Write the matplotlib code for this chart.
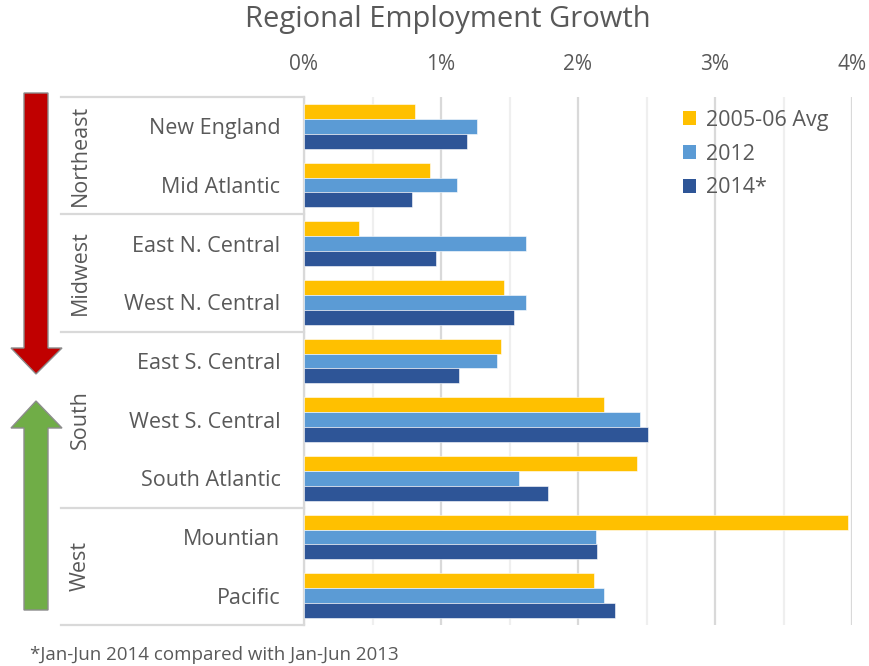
import numpy as np
import matplotlib
matplotlib.use("Agg")
import matplotlib.pyplot as plt
from matplotlib.transforms import blended_transform_factory
from matplotlib.patches import Polygon, Patch

plt.rcParams['font.family'] = ['Open Sans', 'DejaVu Sans']

# data
regions = ["New England", "Mid Atlantic", "East N. Central", "West N. Central",
           "East S. Central", "West S. Central", "South Atlantic", "Mountian", "Pacific"]
groups = ["Northeast", "Midwest", "South", "West"]
group_sizes = [2, 2, 3, 2]
avg0506 = [0.81, 0.92, 0.40, 1.46, 1.44, 2.19, 2.43, 3.97, 2.12]
y2012 = [1.26, 1.12, 1.62, 1.62, 1.41, 2.45, 1.57, 2.13, 2.19]
y2014 = [1.19, 0.79, 0.96, 1.53, 1.13, 2.51, 1.78, 2.14, 2.27]
series_names = ["2005-06 Avg", "2012", "2014*"]
colors = ["#FFC000", "#5B9BD5", "#2E5597"]
xticks = [0, 1, 2, 3, 4]
xticklabels = ["0%", "1%", "2%", "3%", "4%"]

W, H = 869, 666
fig = plt.figure(figsize=(W / 100, H / 100), dpi=100)
ax = fig.add_axes([304 / W, 1 - 625 / H, (852 - 304) / W, (625 - 97) / H])

txt = "#595959"
pos = np.arange(len(regions))
h = 0.255
for i, (vals, c) in enumerate(zip([avg0506, y2012, y2014], colors)):
    ax.barh(pos + (i - 1) * h, vals, height=h, color=c, edgecolor="white",
            linewidth=0.4, zorder=3, label=series_names[i])

ax.set_ylim(len(regions) - 0.5, -0.5)
ax.set_xlim(0, 4)
ax.xaxis.tick_top()
ax.set_xticks(xticks)
ax.set_xticklabels(xticklabels)
ax.set_xticks(np.arange(0.5, 4, 1), minor=True)
ax.grid(axis="x", which="major", color="#d9d9d9", lw=1.6, zorder=0)
ax.grid(axis="x", which="minor", color="#efefef", lw=1.6, zorder=0)
ax.tick_params(axis="x", which="both", length=0, pad=16, labelsize=15, labelcolor=txt)
ax.set_yticks(pos)
ax.set_yticklabels(regions)
ax.tick_params(axis="y", length=0, pad=17, labelsize=15.5, labelcolor=txt)
for s in ["top", "right", "bottom"]:
    ax.spines[s].set_visible(False)
ax.spines["left"].set_color("#d9d9d9")
ax.spines["left"].set_linewidth(1.6)

# category table lines and group labels
tr = blended_transform_factory(fig.transFigure, ax.transData)
bounds = np.concatenate([[0], np.cumsum(group_sizes)]) - 0.5
for b in bounds:
    ax.plot([61 / W, 304 / W], [b, b], transform=tr, color="#d9d9d9", lw=1.6,
            clip_on=False, zorder=1)
for g, lo, hi in zip(groups, bounds[:-1], bounds[1:]):
    ax.text(80 / W, (lo + hi) / 2, g, transform=tr, rotation=90, ha="center",
            va="center", fontsize=15.5, color=txt)

# arrows
ov = fig.add_axes([0, 0, 1, 1], zorder=-1)
ov.set_xlim(0, W)
ov.set_ylim(H, 0)
ov.axis("off")
red = [(24, 93), (48, 93), (48, 348), (62, 348), (36, 374), (11, 348), (24, 348)]
green = [(24, 610), (48, 610), (48, 428), (62, 428), (36, 401), (11, 428), (24, 428)]
ov.add_patch(Polygon(red, closed=True, facecolor="#C00000", edgecolor="#8c8c8c", lw=1))
ov.add_patch(Polygon(green, closed=True, facecolor="#70AD47", edgecolor="#8c8c8c", lw=1))

fig.text(448 / W, 1 - 20 / H, "Regional Employment Growth", ha="center", va="center",
         fontsize=21, color=txt)
fig.text(30 / W, 1 - 655 / H, "*Jan-Jun 2014 compared with Jan-Jun 2013", ha="left",
         va="center", fontsize=13.5, color=txt)

handles = [Patch(facecolor=c) for c in colors]
ax.legend(handles, series_names, loc="upper left", bbox_to_anchor=(674 / W, 1 - 101 / H),
          bbox_transform=fig.transFigure, frameon=False, fontsize=15.5, labelcolor=txt,
          handlelength=0.6, handleheight=0.6, handletextpad=0.5, labelspacing=0.6,
          borderaxespad=0)

fig.savefig("out.png", dpi=100, facecolor="white")
